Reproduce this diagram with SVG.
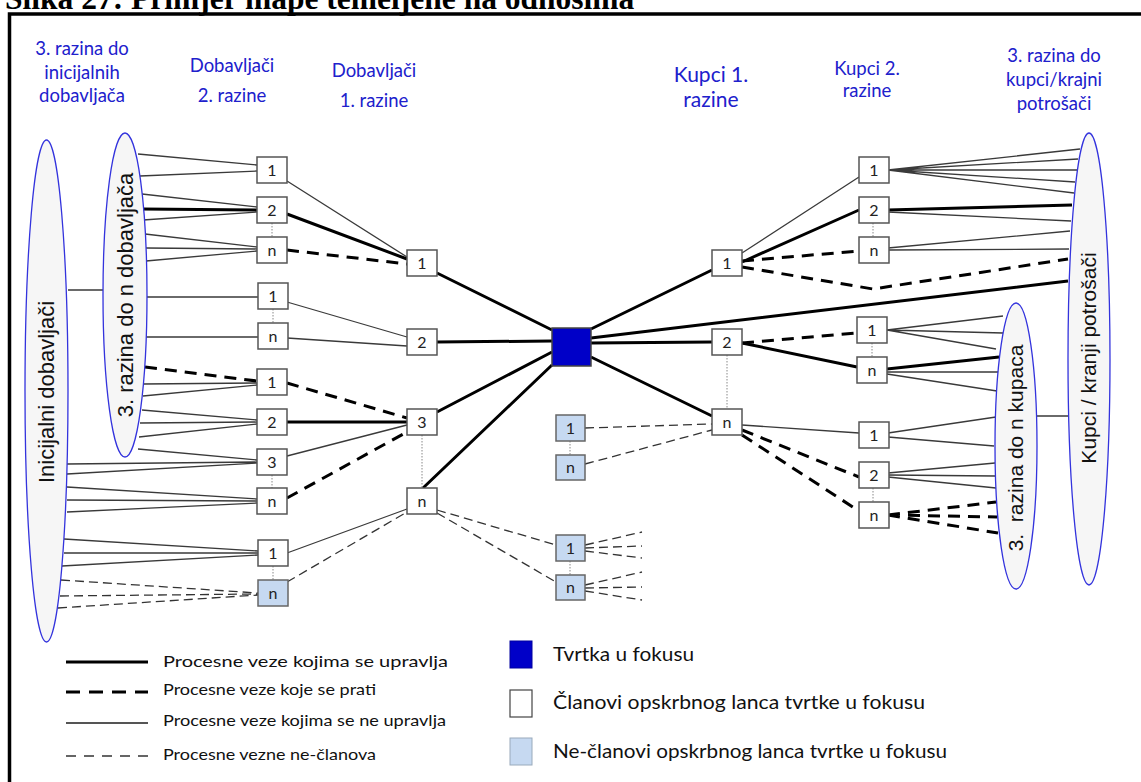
<svg xmlns="http://www.w3.org/2000/svg" width="1141" height="782" viewBox="0 0 1141 782">
<style>
.thick{stroke:#000;stroke-width:3;fill:none}
.thickd{stroke:#000;stroke-width:3;stroke-dasharray:12 8;fill:none}
.thin{stroke:#3a3a3a;stroke-width:1.3;fill:none}
.thind{stroke:#333;stroke-width:1.3;stroke-dasharray:9 5;fill:none}
.dot{stroke:#888;stroke-width:1;stroke-dasharray:1.5 1.5}
.box{fill:#fff;stroke:#555;stroke-width:1.5}
.nbox{fill:#c6d9f1;stroke:#666;stroke-width:1.5}
.ell{fill:#f6f6f6;stroke:#3333dd;stroke-width:1.3}
.lbl{font-family:Lato,"Open Sans",sans-serif;font-size:16px;text-anchor:middle;fill:#222}
.hdr{font-family:Lato,"Open Sans",sans-serif;font-size:18.5px;text-anchor:middle;fill:#2020cc}
.etx{font-family:"Liberation Sans",Arial,sans-serif;font-size:22px;text-anchor:middle;fill:#111}
.leg{font-family:Lato,"Open Sans",sans-serif;font-size:16px;fill:#111}
.leg2{font-family:Lato,"Open Sans",sans-serif;font-size:19px;fill:#111}
</style>
<rect x="0" y="0" width="1141" height="782" fill="#fff"/>
<text x="5" y="9" font-family="'Liberation Serif','Times New Roman',serif" font-weight="bold" font-size="31.5" fill="#000">Slika 27: Primjer mape temeljene na odnosima</text>
<rect x="9.5" y="14" width="1300" height="900" fill="none" stroke="#000" stroke-width="3.5"/>

<g id="headers">
<text class="hdr" x="82" y="55">3. razina do</text>
<text class="hdr" x="82" y="79">inicijalnih</text>
<text class="hdr" x="82" y="102">dobavljača</text>
<text class="hdr" x="232" y="72">Dobavljači</text>
<text class="hdr" x="232" y="102">2. razine</text>
<text class="hdr" x="374" y="77">Dobavljači</text>
<text class="hdr" x="374" y="107">1. razine</text>
<text class="hdr" x="711" y="82" style="font-size:21px">Kupci 1.</text>
<text class="hdr" x="711" y="107" style="font-size:21px">razine</text>
<text class="hdr" x="867" y="75">Kupci 2.</text>
<text class="hdr" x="867" y="97">razine</text>
<text class="hdr" x="1054" y="62">3. razina do</text>
<text class="hdr" x="1054" y="86">kupci/krajni</text>
<text class="hdr" x="1054" y="110">potrošači</text>
</g>

<g id="connectors">
<path class="thin" d="M138,154L257,165M140,176L257,171M142,194L257,207M143,220L257,212M145,234L257,247M146,248L257,249M146,261L257,251M147,297L258,297M146,337L258,337M143,384L257,383M143,396L257,385M142,410L257,420M140,423L257,422M139,437L257,424M138,449L257,460M67,464L257,462M67,474L257,463M67,487L257,499M67,500L257,501M67,512L257,503M64,539L258,551M64,553L258,553M62,566L258,555M287,181L407,257M287,302L407,337M287,338L407,346M287,456L407,425M287,553L407,509M68,290L103,290"/>
<path class="thick" d="M142,209L257,210M287,214L407,259M287,422L407,422M437,273L552,330M437,342L552,341M437,412L552,352M423,488L552,365"/>
<path class="thickd" d="M287,250L407,264M145,367L257,381M287,383L407,418M287,498L407,432"/>
<path class="thind" d="M61,580L258,593M60,596L258,594M58,608L258,595M287,582L407,512M437,510L556,545M437,513L556,582M585,545L642,532M585,548L642,546M585,551L642,558M585,585L642,572M585,588L642,587M585,591L642,600M585,428L712,424M585,464L712,430"/>
<path class="thick" d="M591,329L712,270M591,338L1068,281M591,343L712,342M591,357L712,416M742,262L859,210M888,210L1072,205M742,343L857,367M887,369L999,357"/>
<path class="thin" d="M742,253L859,177M888,170L1080,149M888,170L1078,159M888,170L1077,170M888,170L1075,182M888,170L1074,193M888,212L1071,221M888,248L1070,231M888,250L1069,249M887,330L1003,316M887,330L1003,333M887,330L996,349M887,372L999,372M887,374L997,391M742,425L859,433M888,433L996,417M888,437L994,446M888,473L995,463M888,475L995,476M888,477L996,488M1037,416L1068,416"/>
<path class="thickd" d="M742,261L859,251M742,267L873,289L1068,259M742,343L857,333M742,430L859,477M742,435L859,511M888,515L996,502M888,515L997,517M888,515L998,533"/>
<path class="dot" d="M272,223V237M273,309V323M272,475V488M273,566V580M422,435V488M570,441V455M570,561V575M873,223V237M872,343V357M727,355V409M873,488V502"/>
</g>

<g id="ell-initial">
<ellipse class="ell" cx="46.5" cy="391" rx="21.5" ry="251"/>
<text class="etx" transform="translate(54,392) rotate(-90)">Inicijalni dobavljači</text>
</g>
<g id="ell-3sup">
<ellipse class="ell" cx="125" cy="295" rx="22" ry="162"/>
<text class="etx" transform="translate(133,295) rotate(-90)">3. razina do n dobavljača</text>
</g>
<g id="ell-3cust">
<ellipse class="ell" cx="1016" cy="446" rx="21" ry="143"/>
<text class="etx" style="font-size:21px" transform="translate(1023,448) rotate(-90)" xml:space="preserve">3.  razina do n kupaca</text>
</g>
<g id="ell-end">
<ellipse class="ell" cx="1089" cy="359" rx="21" ry="226"/>
<text class="etx" style="font-size:21px" transform="translate(1096,358) rotate(-90)">Kupci / kranji potrošači</text>
</g>

<g id="s2a"><rect class="box" x="257" y="157" width="30" height="26"/><text class="lbl" x="272" y="176">1</text></g>
<g id="s2b"><rect class="box" x="257" y="197" width="30" height="26"/><text class="lbl" x="272" y="216">2</text></g>
<g id="s2c"><rect class="box" x="257" y="237" width="30" height="26"/><text class="lbl" x="272" y="256">n</text></g>
<g id="s2d"><rect class="box" x="258" y="283" width="30" height="26"/><text class="lbl" x="273" y="302">1</text></g>
<g id="s2e"><rect class="box" x="258" y="323" width="30" height="26"/><text class="lbl" x="273" y="342">n</text></g>
<g id="s2f"><rect class="box" x="257" y="369" width="30" height="26"/><text class="lbl" x="272" y="388">1</text></g>
<g id="s2g"><rect class="box" x="257" y="409" width="30" height="26"/><text class="lbl" x="272" y="428">2</text></g>
<g id="s2h"><rect class="box" x="257" y="449" width="30" height="26"/><text class="lbl" x="272" y="468">3</text></g>
<g id="s2i"><rect class="box" x="257" y="488" width="30" height="26"/><text class="lbl" x="272" y="507">n</text></g>
<g id="s2j"><rect class="box" x="258" y="540" width="30" height="26"/><text class="lbl" x="273" y="559">1</text></g>
<g id="s2k"><rect class="nbox" x="258" y="580" width="30" height="26"/><text class="lbl" x="273" y="599">n</text></g>

<g id="s1a"><rect class="box" x="407" y="250" width="30" height="26"/><text class="lbl" x="422" y="269">1</text></g>
<g id="s1b"><rect class="box" x="407" y="329" width="30" height="26"/><text class="lbl" x="422" y="348">2</text></g>
<g id="s1c"><rect class="box" x="407" y="409" width="30" height="26"/><text class="lbl" x="422" y="428">3</text></g>
<g id="s1d"><rect class="box" x="407" y="488" width="30" height="26"/><text class="lbl" x="422" y="507">n</text></g>

<g id="focus"><rect x="552" y="328" width="39" height="38" fill="#0000c8" stroke="#444" stroke-width="1.5"/></g>

<g id="m1"><rect class="nbox" x="556" y="415" width="29" height="26"/><text class="lbl" x="570.5" y="434">1</text></g>
<g id="m2"><rect class="nbox" x="556" y="455" width="29" height="25"/><text class="lbl" x="570.5" y="473">n</text></g>
<g id="m3"><rect class="nbox" x="556" y="535" width="29" height="26"/><text class="lbl" x="570.5" y="554">1</text></g>
<g id="m4"><rect class="nbox" x="556" y="575" width="29" height="25"/><text class="lbl" x="570.5" y="593">n</text></g>

<g id="c1a"><rect class="box" x="712" y="250" width="30" height="26"/><text class="lbl" x="727" y="269">1</text></g>
<g id="c1b"><rect class="box" x="712" y="329" width="30" height="26"/><text class="lbl" x="727" y="348">2</text></g>
<g id="c1c"><rect class="box" x="712" y="409" width="30" height="26"/><text class="lbl" x="727" y="428">n</text></g>

<g id="c2a"><rect class="box" x="859" y="157" width="30" height="26"/><text class="lbl" x="874" y="176">1</text></g>
<g id="c2b"><rect class="box" x="859" y="197" width="30" height="26"/><text class="lbl" x="874" y="216">2</text></g>
<g id="c2c"><rect class="box" x="859" y="237" width="30" height="26"/><text class="lbl" x="874" y="256">n</text></g>
<g id="c2d"><rect class="box" x="857" y="317" width="30" height="26"/><text class="lbl" x="872" y="336">1</text></g>
<g id="c2e"><rect class="box" x="857" y="357" width="30" height="26"/><text class="lbl" x="872" y="376">n</text></g>
<g id="c2f"><rect class="box" x="859" y="422" width="30" height="26"/><text class="lbl" x="874" y="441">1</text></g>
<g id="c2g"><rect class="box" x="859" y="462" width="30" height="26"/><text class="lbl" x="874" y="481">2</text></g>
<g id="c2h"><rect class="box" x="859" y="502" width="30" height="26"/><text class="lbl" x="874" y="521">n</text></g>

<g id="legend">
<line x1="66" y1="662" x2="148" y2="662" stroke="#000" stroke-width="3"/>
<line x1="66" y1="692" x2="148" y2="692" stroke="#000" stroke-width="3" stroke-dasharray="14 9"/>
<line x1="66" y1="723" x2="148" y2="723" stroke="#555" stroke-width="2"/>
<line x1="66" y1="756" x2="148" y2="756" stroke="#333" stroke-width="1.5" stroke-dasharray="10 8"/>
<text class="leg" x="163" y="667" textLength="285" lengthAdjust="spacingAndGlyphs">Procesne veze kojima se upravlja</text>
<text class="leg" x="163" y="695" textLength="213" lengthAdjust="spacingAndGlyphs">Procesne veze koje se prati</text>
<text class="leg" x="163" y="726" textLength="283" lengthAdjust="spacingAndGlyphs">Procesne veze kojima se ne upravlja</text>
<text class="leg" x="163" y="760" textLength="213" lengthAdjust="spacingAndGlyphs">Procesne vezne ne-članova</text>
<rect x="510" y="641" width="22" height="27" fill="#0000c8" stroke="#0000a0" stroke-width="1"/>
<rect x="510" y="690" width="22" height="27" fill="#fff" stroke="#444" stroke-width="1.2"/>
<rect x="510" y="738" width="22" height="27" fill="#c6d9f1" stroke="#9ab" stroke-width="1"/>
<text class="leg2" x="553" y="661" textLength="141" lengthAdjust="spacingAndGlyphs">Tvrtka u fokusu</text>
<text class="leg2" x="553" y="709" textLength="372" lengthAdjust="spacingAndGlyphs">Članovi opskrbnog lanca tvrtke u fokusu</text>
<text class="leg2" x="553" y="758" textLength="394" lengthAdjust="spacingAndGlyphs">Ne-članovi opskrbnog lanca tvrtke u fokusu</text>
</g>
</svg>
